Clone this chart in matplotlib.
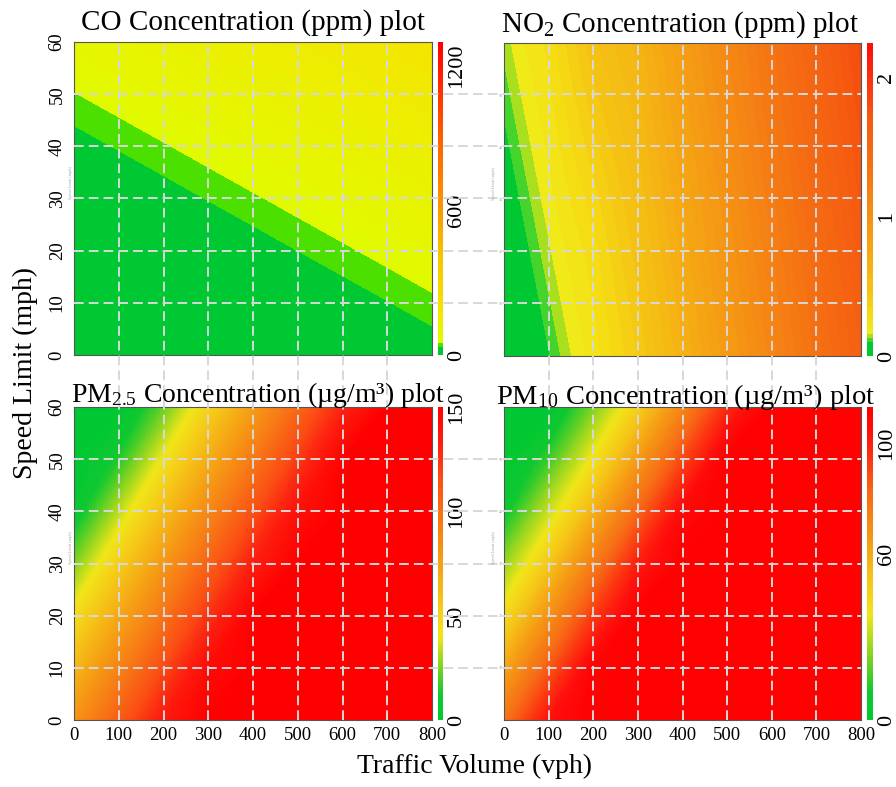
import numpy as np
import matplotlib
matplotlib.use("Agg")
import matplotlib.pyplot as plt
import matplotlib.transforms as mtransforms
from matplotlib.colors import LinearSegmentedColormap
from matplotlib.lines import Line2D

plt.rcParams['font.family'] = ['Liberation Serif', 'DejaVu Serif']
plt.rcParams['mathtext.fontset'] = 'custom'
plt.rcParams['mathtext.rm'] = 'Liberation Serif'
plt.rcParams['mathtext.it'] = 'Liberation Serif:italic'

# grid of the response surfaces
traffic_vph = [0, 100, 200, 300, 400, 500, 600, 700, 800]
speed_mph = [0, 10, 20, 30, 40, 50, 60]

# values, one row per speed limit
co_ppm = [
    [0.0, 0.9, 1.8, 2.7, 3.6, 4.6, 5.5, 6.4, 18.2],
    [1.9, 2.8, 3.7, 4.6, 5.5, 6.5, 19.2, 31.9, 44.7],
    [3.8, 4.7, 5.6, 7.6, 20.3, 33.0, 45.7, 58.4, 71.2],
    [5.7, 8.6, 21.3, 34.1, 46.8, 59.5, 72.2, 84.9, 97.7],
    [22.4, 35.1, 47.8, 60.6, 73.3, 86.0, 98.7, 111.4, 124.2],
    [48.9, 61.6, 74.3, 87.1, 99.8, 112.5, 125.2, 137.9, 150.7],
    [75.4, 88.1, 100.8, 113.6, 126.3, 139.0, 151.7, 164.4, 177.2],
]
no2_ppm = [
    [0.0, 0.096, 0.220, 0.402, 0.642, 0.882, 1.122, 1.362, 1.602],
    [0.0, 0.124, 0.248, 0.438, 0.678, 0.918, 1.158, 1.398, 1.638],
    [0.028, 0.152, 0.276, 0.474, 0.714, 0.954, 1.194, 1.434, 1.674],
    [0.056, 0.180, 0.324, 0.510, 0.750, 0.990, 1.230, 1.470, 1.710],
    [0.084, 0.208, 0.378, 0.546, 0.786, 1.026, 1.266, 1.506, 1.746],
    [0.112, 0.236, 0.432, 0.582, 0.822, 1.062, 1.302, 1.542, 1.782],
    [0.140, 0.264, 0.486, 0.618, 0.858, 1.098, 1.338, 1.578, 1.818],
]
pm25_ugm3 = [
    [81.6, 108.6, 135.6, 162.6, 189.6, 216.6, 243.6, 270.6, 297.6],
    [62.7, 89.7, 116.7, 143.7, 170.7, 197.7, 224.7, 251.7, 278.7],
    [43.8, 70.8, 97.8, 124.8, 151.8, 178.8, 205.8, 232.8, 259.8],
    [24.9, 51.9, 78.9, 105.9, 132.9, 159.9, 186.9, 213.9, 240.9],
    [6.0, 33.0, 60.0, 87.0, 114.0, 141.0, 168.0, 195.0, 222.0],
    [0.0, 14.1, 41.1, 68.1, 95.1, 122.1, 149.1, 176.1, 203.1],
    [0.0, 0.0, 22.2, 49.2, 76.2, 103.2, 130.2, 157.2, 184.2],
]
pm10_ugm3 = [
    [78.3, 103.3, 128.3, 153.3, 178.3, 203.3, 228.3, 253.3, 278.3],
    [60.6, 85.6, 110.6, 135.6, 160.6, 185.6, 210.6, 235.6, 260.6],
    [42.8, 67.8, 92.8, 117.8, 142.8, 167.8, 192.8, 217.8, 242.8],
    [25.1, 50.1, 75.1, 100.1, 125.1, 150.1, 175.1, 200.1, 225.1],
    [7.3, 32.3, 57.3, 82.3, 107.3, 132.3, 157.3, 182.3, 207.3],
    [0.0, 14.6, 39.6, 64.6, 89.6, 114.6, 139.6, 164.6, 189.6],
    [0.0, 0.0, 21.8, 46.8, 71.8, 96.8, 121.8, 146.8, 171.8],
]

titles = [
    "CO Concentration (ppm) plot",
    r"NO$_2$ Concentration (ppm) plot",
    r"PM$_{2.5}$ Concentration (µg/m³) plot",
    r"PM$_{10}$ Concentration (µg/m³) plot",
]

# colour stops (value, colour) per panel
co_stops = [(0, "#00c832"), (33, "#00c832"), (33, "#4ce000"), (50, "#4ce000"),
            (50, "#e2fa00"), (180, "#f5e400"), (400, "#f8c400"), (600, "#fa9a00"),
            (900, "#ff6000"), (1300, "#ff0000")]
no2_stops = [(0, "#00c832"), (0.1, "#00c832"), (0.1, "#44d42c"), (0.13, "#44d42c"),
             (0.13, "#a8e020"), (0.16, "#a8e020"), (0.16, "#f0ec1a"), (0.28, "#f5dc14"),
             (0.42, "#f5c814"), (0.66, "#f5b014"), (0.9, "#f59a14"), (1.15, "#f58414"),
             (1.4, "#f56e12"), (1.7, "#f55a10"), (2.0, "#fa3010"), (2.25, "#ff0a0a")]
pm25_stops = [(0, "#00c832"), (12, "#10c830"), (27, "#8cd420"), (40, "#f0e618"),
              (55, "#f5c818"), (75, "#f5a014"), (95, "#f77a16"), (115, "#fa5014"),
              (132, "#fd2010"), (150, "#ff0000")]
pm10_stops = [(0, "#00c832"), (10, "#10c830"), (24, "#8cd420"), (38, "#f0e618"),
              (50, "#f5c818"), (65, "#f59a14"), (82, "#f76a16"), (95, "#fc3210"),
              (105, "#ff0c0c"), (113, "#ff0000")]

co_levels = [0, 33, 50] + list(range(60, 1301, 10))
no2_levels = [0, 0.1, 0.13, 0.16] + list(np.round(np.arange(0.2, 2.26, 0.05), 2))
pm25_levels = list(np.linspace(0, 150, 151))
pm10_levels = list(np.linspace(0, 113, 114))

co_ticks = [0, 600, 1200]
no2_ticks = [0, 1, 2]
pm25_ticks = [0, 50, 100, 150]
pm10_ticks = [0, 60, 100]


def make_cmap(name, stops):
    vmax = stops[-1][0]
    return LinearSegmentedColormap.from_list(name, [(v / vmax, c) for v, c in stops])


W, H = 896, 787
fig = plt.figure(figsize=(W / 100, H / 100), dpi=100)


def rect(x0, y0, x1, y1):
    # pixel box (top-left origin) -> figure fraction
    return [x0 / W, 1 - y1 / H, (x1 - x0) / W, (y1 - y0) / H]


# data, levels, colours, colorbar ticks, axes box, colorbar box, title (x centre, baseline, size)
panels = [
    (co_ppm, co_levels, co_stops, co_ticks, rect(74, 42, 432, 355), rect(437.5, 42, 443, 355), (253, 30, 21)),
    (no2_ppm, no2_levels, no2_stops, no2_ticks, rect(504, 43, 861, 356), rect(867, 43, 872.5, 356), (680, 32, 21)),
    (pm25_ugm3, pm25_levels, pm25_stops, pm25_ticks, rect(74, 407, 432, 720), rect(437.5, 407, 443, 720), (258, 402, 20)),
    (pm10_ugm3, pm10_levels, pm10_stops, pm10_ticks, rect(504, 407, 861, 720), rect(867, 407, 872.5, 720), (686, 404, 20.5)),
]

X, Y = np.meshgrid(traffic_vph, speed_mph)
axes = []
for i, (z, lv, stops, ticks, arect, crect, (tx, ty, tsize)) in enumerate(panels):
    ax = fig.add_axes(arect)
    cax = fig.add_axes(crect)
    cmap = make_cmap("c%d" % i, stops)
    zz = np.clip(np.array(z), lv[0], lv[-1])
    cs = ax.contourf(X, Y, zz, levels=lv, cmap=cmap, vmin=lv[0], vmax=lv[-1],
                     antialiased=False)
    ax.set_xlim(0, 800)
    ax.set_ylim(0, 60)
    ax.set_xticks(traffic_vph)
    for s in ax.spines.values():
        s.set_color("#555555")
        s.set_linewidth(0.8)
    ax.tick_params(length=0)
    if i >= 2:
        ax.tick_params(axis="x", labelsize=13.5, pad=5)
    else:
        ax.set_xticklabels([])
    if i % 2 == 0:
        ax.set_yticks(speed_mph)
        ax.tick_params(axis="y", labelsize=13.5, pad=6, labelrotation=90)
        for t in ax.get_yticklabels():
            t.set_va("center")
        ghost_x = arect[0] - 3.5 / W
    else:
        ax.set_yticks(speed_mph[1:-1])
        ax.tick_params(axis="y", labelsize=3, pad=1, labelcolor="#999999")
        ghost_x = arect[0] - 10 / W
    cb = fig.colorbar(cs, cax=cax, ticks=ticks, spacing="proportional")
    cb.outline.set_visible(False)
    cb.ax.tick_params(length=0, labelsize=16, pad=3, labelrotation=90)
    for t in cb.ax.get_yticklabels():
        t.set_va("center")
    fig.text(tx / W, 1 - ty / H, titles[i], ha="center", va="baseline", fontsize=tsize, zorder=5)
    # faint inner axis label left over in each panel
    fig.text(ghost_x, arect[1] + arect[3] * 0.55, "Speed Limit (mph)",
             rotation=90, fontsize=3.2, color="#a8a8a8", ha="center", va="center")
    axes.append(ax)

# dashed grey guide lines running across the panels
grid_kw = dict(color="#d8d8d8", lw=1.4, ls=(0, (5, 2.6)), zorder=3)
for top, bottom in [(axes[0], axes[2]), (axes[1], axes[3])]:
    tr = mtransforms.blended_transform_factory(bottom.transData, fig.transFigure)
    y0 = bottom.get_position().y0
    y1 = top.get_position().y1
    for xv in traffic_vph[1:-1]:
        fig.add_artist(Line2D([xv, xv], [y0, y1], transform=tr, **grid_kw))
for left, right in [(axes[0], axes[1]), (axes[2], axes[3])]:
    tr = mtransforms.blended_transform_factory(fig.transFigure, left.transData)
    x0 = left.get_position().x0
    x1 = right.get_position().x1
    for yv in speed_mph[1:-1]:
        fig.add_artist(Line2D([x0, x1], [yv, yv], transform=tr, **grid_kw))

fig.text(474.5 / W, 1 - 773 / H, "Traffic Volume (vph)", ha="center", va="baseline", fontsize=20)
fig.text(25 / W, 1 - 373 / H, "Speed Limit (mph)", ha="center", va="center",
         rotation=90, fontsize=20)

fig.savefig("out.png", dpi=100)
